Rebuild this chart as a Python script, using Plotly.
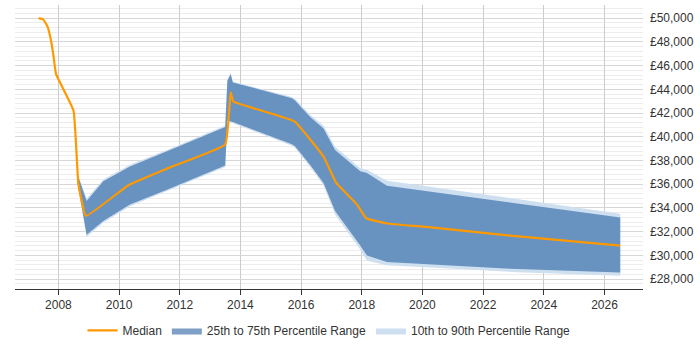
import plotly.graph_objects as go

# Median salary series
med_years = [2007.35, 2007.50, 2007.64, 2007.75, 2007.84, 2007.92, 2008.50, 2008.66, 2008.91,
             2010.31, 2011.68, 2013.50, 2013.68, 2013.77, 2015.78, 2016.74, 2017.16, 2017.84,
             2018.15, 2018.83, 2020.03, 2022.89, 2026.52]
med_vals = [50000, 49900, 49300, 48200, 46800, 45300, 42200, 36000, 33330,
            35920, 37420, 39360, 43750, 42970, 41300, 38330, 36110, 34300,
            33130, 32690, 32420, 31670, 30830]

# 25th-75th percentile band
q_years = [2008.62, 2008.93, 2009.48, 2010.36, 2011.68, 2013.50, 2013.57, 2013.68, 2013.75,
           2015.70, 2015.80, 2016.30, 2016.74, 2017.12, 2017.95, 2018.17, 2018.83, 2022.89, 2026.52]
q75 = [36900, 34580, 36250, 37500, 38880, 40830, 44720, 45280, 44580,
       43250, 43050, 41670, 40690, 38880, 37100, 36940, 35880, 34440, 33190]
q25 = [36300, 31730, 32900, 34300, 35630, 37580, 41380, 41300, 41250,
       39360, 39200, 37630, 36110, 33750, 30830, 30000, 29440, 28880, 28550]

# 10th-90th percentile band
q90 = [37000, 34800, 36400, 37650, 39000, 40950, 44800, 45350, 44650,
       43350, 43200, 41850, 40950, 39150, 37350, 37220, 36300, 34860, 33520]
q10 = [36200, 31550, 32750, 34150, 35500, 37450, 41300, 41200, 41150,
       39250, 39050, 37450, 35900, 33450, 30500, 29550, 29170, 28610, 28280]

x_ticks = list(range(2008, 2027, 2))
y_ticks = list(range(28000, 50001, 2000))
y_labels = [f"£{v:,}" for v in y_ticks]

fig = go.Figure()

fig.add_trace(go.Scatter(
    x=q_years + q_years[::-1], y=q90 + q10[::-1],
    fill="toself", mode="lines", line=dict(width=0),
    fillcolor="rgb(206,223,240)", name="10th to 90th Percentile Range",
    legendrank=3, hoverinfo="skip"))
fig.add_trace(go.Scatter(
    x=q_years + q_years[::-1], y=q75 + q25[::-1],
    fill="toself", mode="lines", line=dict(width=0),
    fillcolor="rgba(20,82,151,0.55)", name="25th to 75th Percentile Range",
    legendrank=2, hoverinfo="skip"))
fig.add_trace(go.Scatter(
    x=med_years, y=med_vals, mode="lines",
    line=dict(color="#FF9900", width=2.2, shape="spline", smoothing=0.3),
    name="Median", legendrank=1))

fig.update_layout(
    width=700, height=350,
    margin=dict(l=15, r=57, t=5, b=58),
    paper_bgcolor="white", plot_bgcolor="white",
    font=dict(family="Liberation Sans, Arial, sans-serif", size=12, color="#333"),
    showlegend=True,
    legend=dict(orientation="h", x=0.5, xanchor="center", y=-0.146, yanchor="middle",
                font=dict(size=12, color="#333"), itemwidth=30, traceorder="normal"),
)
fig.update_xaxes(
    range=[2006.57, 2027.27], tickvals=x_ticks, ticktext=[str(t) for t in x_ticks],
    showgrid=True, gridcolor="#cccccc", gridwidth=1,
    showline=True, linecolor="#333", linewidth=1,
    ticks="outside", ticklen=5, tickcolor="#333", zeroline=False,
)
fig.update_yaxes(
    range=[27167, 51108], side="right", tickvals=y_ticks, ticktext=y_labels,
    showgrid=True, gridcolor="#d6d6d6", gridwidth=1,
    minor=dict(dtick=400, tick0=0, showgrid=True, gridcolor="#ececec", gridwidth=1),
    showline=False, ticks="", zeroline=False, ticklabelstandoff=6,
)

fig.write_html("out.html")
